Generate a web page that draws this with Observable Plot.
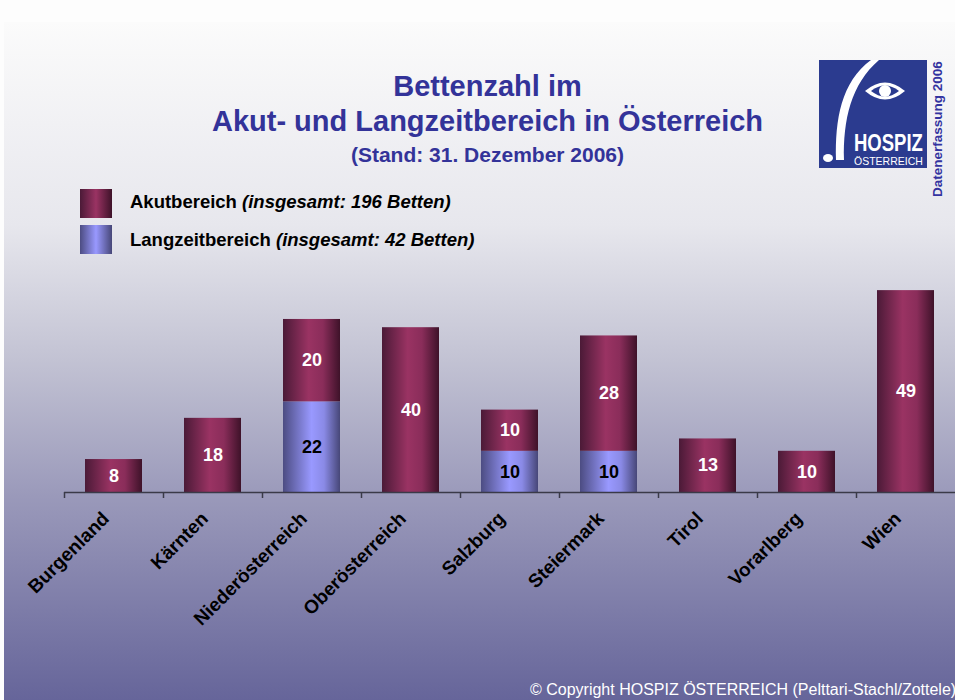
<!DOCTYPE html>
<html>
<head>
<meta charset="utf-8">
<script src="https://cdn.jsdelivr.net/npm/d3@7"></script>
<script src="https://cdn.jsdelivr.net/npm/@observablehq/plot@0.6"></script>
<style>
  html, body { margin: 0; padding: 0; background: #fdfdfd; }
  #page { position: relative; width: 955px; height: 700px; overflow: hidden; background: #fdfdfd; font-family: "Liberation Sans", Arial, sans-serif; }
  #panel { position: absolute; left: 4px; top: 22px; width: 951px; height: 678px;
    background: linear-gradient(to bottom, #fbfbfb 0%, #e7e7ed 30%, #c2c2d3 50%, #9a99ba 70%, #66659a 100%); }
  .title { position: absolute; left: 0; width: 975px; text-align: center; color: #333399; font-weight: bold; white-space: nowrap; line-height: 1.15; }
  #t1 { top: 70px; font-size: 29px; }
  #t2 { top: 105px; font-size: 29px; }
  #t3 { top: 143px; font-size: 21px; }
  .leg { position: absolute; left: 130px; font-size: 18.5px; font-weight: bold; color: #000; white-space: nowrap; line-height: 1.15; }
  .leg i { font-style: italic; }
  .sw { position: absolute; left: 80px; width: 32px; height: 29px; }
  #chart { position: absolute; left: 0; top: 0; }
  #copy { position: absolute; left: 530px; top: 681px; font-size: 16px; color: #ffffff; white-space: nowrap; }
  #logo { position: absolute; left: 819px; top: 60px; }
  #dat { position: absolute; left: 0; top: 0; }
</style>
</head>
<body>
<div id="page">
  <div id="panel"></div>
  <div class="title" id="t1">Bettenzahl im</div>
  <div class="title" id="t2">Akut- und Langzeitbereich in Österreich</div>
  <div class="title" id="t3">(Stand: 31. Dezember 2006)</div>
  <div class="sw" style="top:189px;background:linear-gradient(to right,#4b1a37 0%,#9a3363 50%,#3e1229 100%);"></div>
  <div class="sw" style="top:225px;background:linear-gradient(to right,#4c4c82 0%,#9999ff 50%,#474778 100%);"></div>
  <div class="leg" style="top:191px;">Akutbereich <i>(insgesamt: 196 Betten)</i></div>
  <div class="leg" style="top:229px;">Langzeitbereich <i>(insgesamt: 42 Betten)</i></div>
  <svg id="logo" width="108" height="108" viewBox="0 0 108 108">
    <rect width="108" height="108" fill="#2b3b8f"/>
    <path d="M 17 100 C 16 60, 22 22, 52 0 L 60 0 C 32 24, 24 60, 25 100 Z" fill="#ffffff"/>
    <ellipse cx="9" cy="98" rx="5" ry="4" fill="#ffffff"/>
    <path d="M 46 31 Q 66 14 86 31 Q 66 48 46 31 Z" fill="#ffffff"/>
    <path d="M 52 31 Q 66 20 80 31 Q 66 42 52 31 Z" fill="#2b3b8f"/>
    <circle cx="66" cy="31" r="6" fill="#ffffff"/>
    <g transform="translate(35,91) scale(1,1.25)">
      <text x="0" y="0" font-family="Liberation Sans, Arial" font-weight="bold" font-size="18.5" fill="#ffffff">HOSPIZ</text>
    </g>
    <text x="35" y="105" font-family="Liberation Sans, Arial" font-size="10.5" fill="#ffffff">ÖSTERREICH</text>
  </svg>
  <svg id="dat" width="955" height="700" style="pointer-events:none">
    <text transform="translate(942,197) rotate(-90)" font-family="Liberation Sans, Arial" font-weight="bold" font-size="13.5" fill="#3333a0">Datenerfassung 2006</text>
  </svg>
  <div id="chart"></div>
  <div id="copy">© Copyright HOSPIZ ÖSTERREICH (Pelttari-Stachl/Zottele)</div>
</div>
<script>
const categories = ["Burgenland","Kärnten","Niederösterreich","Oberösterreich","Salzburg","Steiermark","Tirol","Vorarlberg","Wien"];
const akut =      [8, 18, 20, 40, 10, 28, 13, 10, 49];
const langzeit =  [0,  0, 22,  0, 10, 10,  0,  0,  0];
const seriesNames = ["Langzeit", "Akut"];

const rows = [];
categories.forEach((c, i) => {
  if (langzeit[i] > 0) rows.push({region: c, series: "Langzeit", value: langzeit[i]});
  if (akut[i] > 0) rows.push({region: c, series: "Akut", value: akut[i]});
});

const font = "Liberation Sans, Arial, sans-serif";
const plot = Plot.plot({
  width: 955,
  height: 700,
  marginLeft: 64,
  marginRight: 0,
  marginTop: 286,
  marginBottom: 208,
  style: {background: "transparent", fontFamily: font, overflow: "visible"},
  x: {domain: categories, padding: 0, axis: null},
  y: {domain: [0, 50], axis: null},
  color: {domain: seriesNames, range: ["url(#gLang)", "url(#gAkut)"], legend: false},
  marks: [
    Plot.barY(rows, Plot.stackY({x: "region", y: "value", fill: "series", insetLeft: 21, insetRight: 21})),
    Plot.text(rows, Plot.stackY({x: "region", y: "value", text: d => d.series === "Akut" ? String(d.value) : "", fill: "white", fontSize: 18, fontWeight: "bold"})),
    Plot.text(rows, Plot.stackY({x: "region", y: "value", text: d => d.series === "Langzeit" ? String(d.value) : "", fill: "black", fontSize: 18, fontWeight: "bold"})),
    Plot.ruleY([0], {stroke: "#3a3a48", strokeWidth: 1.5}),
    Plot.axisX({tickSize: 6, text: null, label: null, dx: -49.5, stroke: "#3a3a48", strokeWidth: 1.5}),
    Plot.text(categories, {x: d => d, y: () => 0, text: d => d, rotate: -45, textAnchor: "end", dx: -8, dy: 23, fontSize: 19, fontWeight: "bold", fill: "black"})
  ]
});

const ns = "http://www.w3.org/2000/svg";
const defs = document.createElementNS(ns, "defs");
function grad(id, stops) {
  const g = document.createElementNS(ns, "linearGradient");
  g.setAttribute("id", id);
  g.setAttribute("x1", "0"); g.setAttribute("x2", "1"); g.setAttribute("y1", "0"); g.setAttribute("y2", "0");
  stops.forEach(([o, c]) => {
    const s = document.createElementNS(ns, "stop");
    s.setAttribute("offset", o); s.setAttribute("stop-color", c);
    g.appendChild(s);
  });
  defs.appendChild(g);
}
grad("gAkut", [["0%", "#4b1a37"], ["45%", "#9a3363"], ["70%", "#8a2d5a"], ["100%", "#3e1229"]]);
grad("gLang", [["0%", "#4c4c82"], ["50%", "#9999ff"], ["72%", "#8a8ae6"], ["100%", "#474778"]]);
plot.insertBefore(defs, plot.firstChild);
document.getElementById("chart").appendChild(plot);
</script>
</body>
</html>
